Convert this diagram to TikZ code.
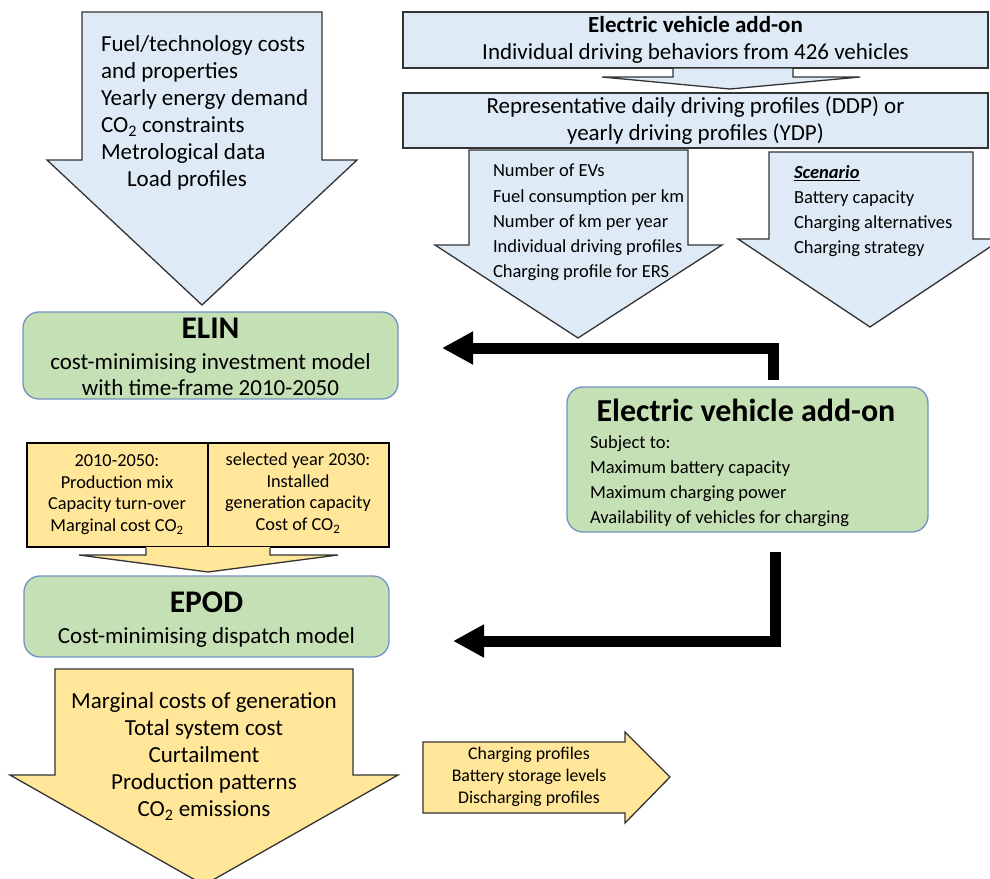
\documentclass[tikz,border=0pt]{standalone}
\usepackage{fontspec}
\setmainfont{Carlito}
\usetikzlibrary{arrows.meta,calc}
\definecolor{bfill}{HTML}{DEEBF7}
\definecolor{bdraw}{HTML}{333333}
\definecolor{gfill}{HTML}{C5E0B4}
\definecolor{gdraw}{HTML}{6F93C4}
\definecolor{yfill}{HTML}{FFE699}
\newcommand{\fs}[2]{\fontsize{#1}{#2}\selectfont}
\tikzset{
  blueshape/.style={fill=bfill,draw=bdraw,line width=1.3pt,line join=miter},
  yellowshape/.style={fill=yfill,draw=bdraw,line width=1.3pt,line join=miter},
  greenbox/.style={rectangle,rounded corners=16pt,fill=gfill,draw=gdraw,line width=1.3pt,inner sep=0pt},
  txt/.style={inner sep=0pt,outer sep=0pt,text=black},
  conn/.style={line width=11pt,line join=miter,-{Triangle[length=31pt,width=31pt]}},
}
\begin{document}
\begin{tikzpicture}[x=1pt,y=-1pt]
\useasboundingbox (0,0) rectangle (990,878);
\clip (0,0) rectangle (990,878);
\fill[white] (0,0) rectangle (990,878);

% big top-left input arrow
\draw[blueshape] (82,12) -- (322,12) -- (322,160) -- (357,160) -- (202,305) -- (47,160) -- (82,160) -- cycle;
\node[txt,anchor=west,align=left,font=\fs{23}{27}] (inputs) at (101,113)
  {Fuel/technology costs\\and properties\\Yearly energy demand\\CO\textsubscript{2} constraints\\Metrological data\\\hspace*{26pt}Load profiles};

% top right boxes
\node[rectangle,fill=bfill,draw=bdraw,line width=1.3pt,minimum width=585pt,minimum height=56pt,inner sep=0pt,align=center,font=\fs{23}{27}] (evtop) at (695.5,40)
  {\textbf{Electric vehicle add-on}\\Individual driving behaviors from 426 vehicles};
\draw[blueshape] (673,68) -- (793,68) -- (793,77) -- (860,77) -- (730,89) -- (602,77) -- (673,77) -- cycle;
\node[rectangle,fill=bfill,draw=bdraw,line width=1.3pt,minimum width=585pt,minimum height=55pt,inner sep=0pt,align=center,font=\fs{23}{27}] (ddp) at (695.5,120.5)
  {Representative daily driving profiles (DDP) or\\yearly driving profiles (YDP)};

% lower blue arrows
\draw[blueshape] (469,150) -- (688,150) -- (688,245) -- (722,245) -- (578,338) -- (435,245) -- (469,245) -- cycle;
\node[txt,anchor=west,align=left,font=\fs{18.5}{25.3}] (evparams) at (493,222.5)
  {Number of EVs\\Fuel consumption per km\\Number of km per year\\Individual driving profiles\\Charging profile for ERS};
\draw[blueshape] (769,152) -- (973,152) -- (973,239) -- (1002,239) -- (870,327) -- (738,239) -- (769,239) -- cycle;
\node[txt,anchor=west,align=left,font=\fs{18.5}{25}] (scen) at (794,211)
  {\underline{\textbf{\textit{Scenario}}}\\Battery capacity\\Charging alternatives\\Charging strategy};

% ELIN
\node[greenbox,minimum width=375pt,minimum height=87pt] (elin) at (210.5,355.5) {};
\node[txt,font=\fs{31.5}{32}\bfseries] (elint) at (210.5,328) {ELIN};
\node[txt,align=center,font=\fs{23}{26}] (elinb) at (210.5,375) {cost-minimising investment model\\with time-frame 2010-2050};

% table
\node[rectangle,fill=yfill,draw=black,line width=1.3pt,minimum width=362pt,minimum height=104pt,inner sep=0pt] (tab) at (208,495) {};
\draw[black,line width=1.3pt] (tab.north) -- (tab.south);
\node[txt,align=center,font=\fs{18.3}{21.7}] (tabl) at (117,494.5)
  {2010-2050:\\Production mix\\Capacity turn-over\\Marginal cost CO\textsubscript{2}};
\node[txt,align=center,font=\fs{18.3}{21.7}] (tabr) at (298,493)
  {selected year 2030:\\Installed\\generation capacity\\Cost of CO\textsubscript{2}};
\draw[yellowshape,draw=none] (146,547) -- (270,547) -- (270,555) -- (338,555) -- (208,572) -- (79,555) -- (146,555) -- cycle;
\draw[bdraw,line width=1.3pt] (146,548) -- (146,555) -- (79,555) -- (208,572) -- (338,555) -- (270,555) -- (270,548);

% EPOD
\node[greenbox,minimum width=365pt,minimum height=81pt] (epod) at (206.5,616.5) {};
\node[txt,font=\fs{31.5}{32}\bfseries] (epodt) at (206.5,602) {EPOD};
\node[txt,font=\fs{23}{26}] (epodb) at (206.5,637) {Cost-minimising dispatch model};

% EV add-on model
\node[greenbox,minimum width=361pt,minimum height=145pt] (ev) at (747.5,459.5) {};
\node[txt,font=\fs{32}{34}\bfseries] (evt) at (746,410) {Electric vehicle add-on};
\node[txt,anchor=west,align=left,font=\fs{18.5}{25}] (evb) at (590,481)
  {Subject to:\\Maximum battery capacity\\Maximum charging power\\Availability of vehicles for charging};

% connectors
\coordinate (c1s) at (773,380);
\coordinate (c1e) at (442,348);
\coordinate (c2s) at (775,552);
\coordinate (c2e) at (453,641);
\draw[conn] (c1s) |- (c1e);
\draw[conn] (c2s) |- (c2e);

% bottom output arrow
\draw[yellowshape] (55,669) -- (353,669) -- (353,775) -- (398,775) -- (204,885) -- (10,775) -- (55,775) -- cycle;
\node[txt,align=center,font=\fs{23}{27}] (outputs) at (204,756.5)
  {Marginal costs of generation\\Total system cost\\Curtailment\\Production patterns\\CO\textsubscript{2} emissions};

% small right output arrow
\draw[yellowshape] (423,742) -- (625,742) -- (625,732) -- (670,777) -- (625,823) -- (625,813) -- (423,813) -- cycle;
\node[txt,align=center,font=\fs{17.8}{22}] (evout) at (529,777)
  {Charging profiles\\Battery storage levels\\Discharging profiles};
\end{tikzpicture}
\end{document}
